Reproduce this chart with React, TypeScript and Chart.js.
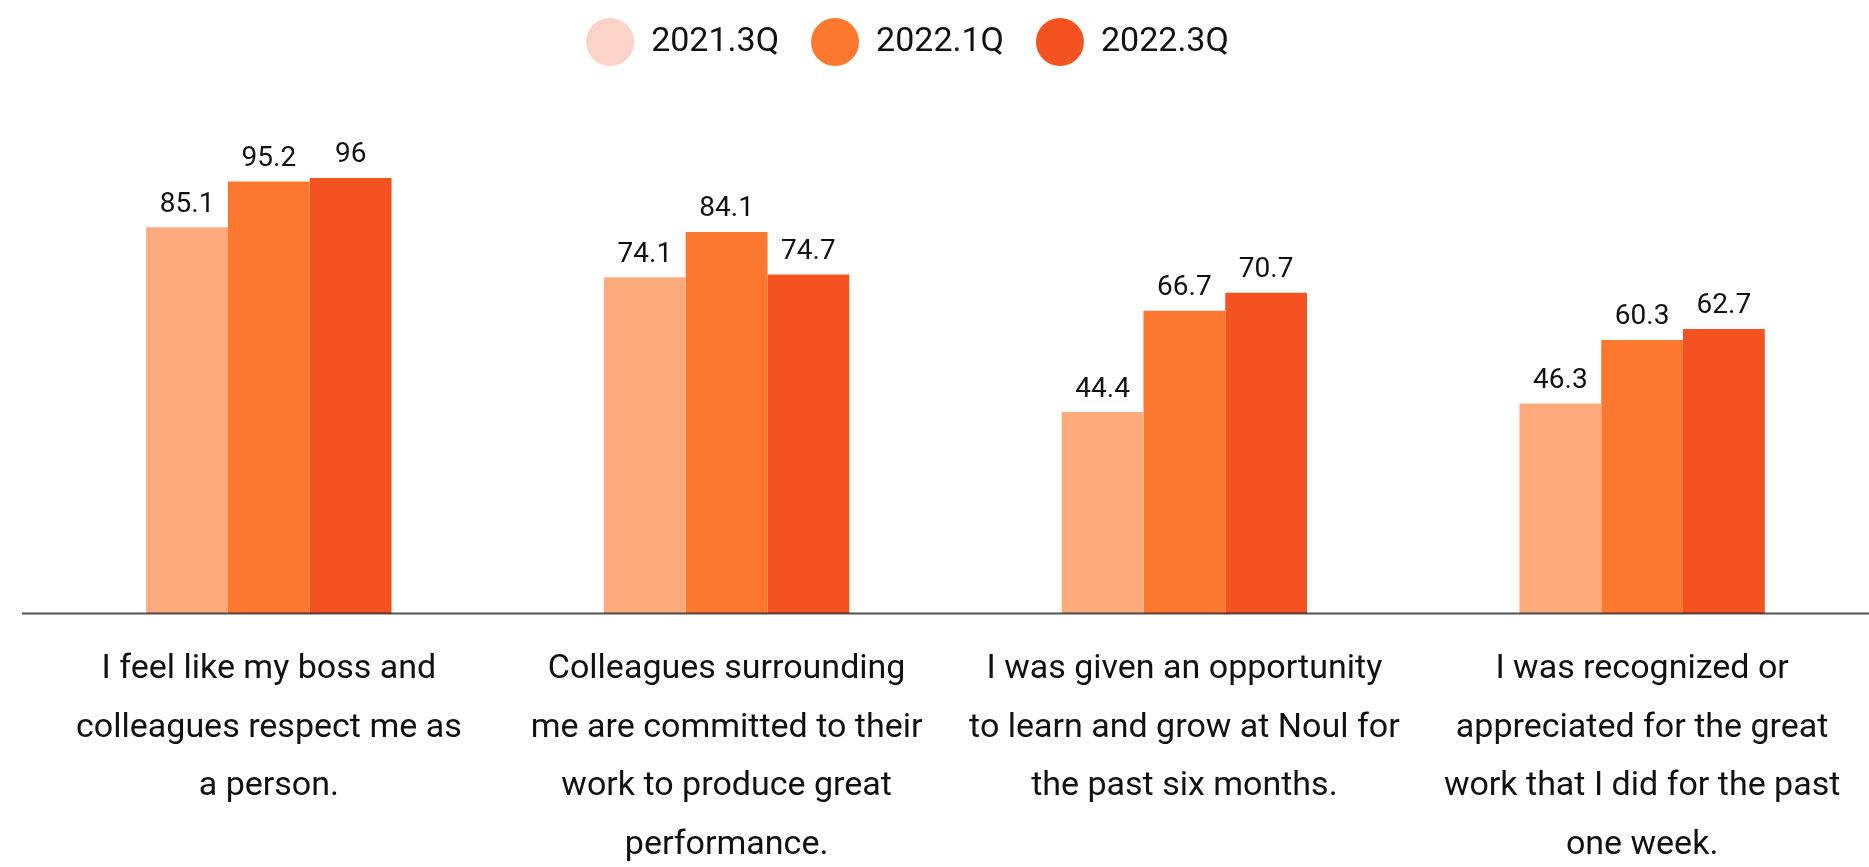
import React, { useEffect, useRef } from "react";
import { Chart, registerables } from "chart.js";

Chart.register(...registerables);

const categories: string[][] = [
  ["I feel like my boss and", "colleagues respect me as", "a person."],
  ["Colleagues surrounding", "me are committed to their", "work to produce great", "performance."],
  ["I was given an opportunity", "to learn and grow at Noul for", "the past six months."],
  ["I was recognized or", "appreciated for the great", "work that I did for the past", "one week."],
];

const seriesNames = ["2021.3Q", "2022.1Q", "2022.3Q"];
const values2021Q3 = [85.1, 74.1, 44.4, 46.3];
const values2022Q1 = [95.2, 84.1, 66.7, 60.3];
const values2022Q3 = [96, 74.7, 70.7, 62.7];

const barColors = ["#FDAA7D", "#FD782F", "#F55222"];
const legendColors = ["#FBD3C8", "#FD782F", "#F55222"];

const FONT = "Roboto, 'Noto Sans', sans-serif";

const valueLabelPlugin = {
  id: "valueLabels",
  afterDatasetsDraw(chart: any) {
    const ctx = chart.ctx;
    ctx.save();
    ctx.font = `28px ${FONT}`;
    ctx.fillStyle = "#111111";
    ctx.textAlign = "center";
    ctx.textBaseline = "alphabetic";
    chart.data.datasets.forEach((ds: any, di: number) => {
      const meta = chart.getDatasetMeta(di);
      meta.data.forEach((bar: any, i: number) => {
        const v = ds.data[i];
        ctx.fillText(String(v), bar.x, bar.y - 15.5);
      });
    });
    ctx.restore();
  },
};

const baselinePlugin = {
  id: "baseline",
  afterDatasetsDraw(chart: any) {
    const ctx = chart.ctx;
    const y = chart.scales.y.getPixelForValue(0);
    ctx.save();
    ctx.strokeStyle = "rgba(0,0,0,0.68)";
    ctx.lineWidth = 2;
    ctx.beginPath();
    ctx.moveTo(78, y);
    ctx.lineTo(chart.width, y);
    ctx.stroke();
    ctx.restore();
  },
};

export default function App() {
  const ref = useRef<HTMLCanvasElement | null>(null);

  useEffect(() => {
    if (!ref.current) return;
    const seriesValues = [values2021Q3, values2022Q1, values2022Q3];
    const chart = new Chart(ref.current, {
      type: "bar",
      data: {
        labels: categories,
        datasets: seriesNames.map((name, i) => ({
          label: name,
          data: seriesValues[i],
          backgroundColor: barColors[i],
          borderWidth: 0,
          categoryPercentage: 0.536,
          barPercentage: 1,
        })),
      },
      options: {
        responsive: false,
        animation: false,
        devicePixelRatio: 1,
        layout: { padding: 0 },
        plugins: {
          tooltip: { enabled: false },
          legend: {
            position: "top",
            align: "center",
            labels: {
              usePointStyle: true,
              pointStyle: "circle",
              pointStyleWidth: 48,
              padding: 32,
              color: "#111111",
              font: { family: FONT, size: 34 },
              generateLabels: (chart: any) => {
                const items = Chart.defaults.plugins.legend.labels.generateLabels(chart);
                return items.map((it: any, i: number) => ({
                  ...it,
                  fillStyle: legendColors[i],
                  strokeStyle: legendColors[i],
                  lineWidth: 0,
                }));
              },
            },
          },
        },
        scales: {
          x: {
            grid: { display: false, drawTicks: false },
            border: { display: false },
            ticks: {
              color: "#111111",
              padding: 27,
              maxRotation: 0,
              autoSkip: false,
              font: { family: FONT, size: 34, lineHeight: "58.5px" },
            },
            afterFit: (scale: any) => {
              scale.height = 253.5;
            },
          },
          y: {
            min: 0,
            max: 120,
            grid: { display: false, drawTicks: false },
            border: { display: false },
            ticks: { display: false },
            afterFit: (scale: any) => {
              scale.width = 96;
            },
          },
        },
      },
      plugins: [valueLabelPlugin, baselinePlugin],
    } as any);
    return () => chart.destroy();
  }, []);

  return (
    <div
      style={{
        position: "fixed",
        left: 0,
        top: 0,
        width: 1869,
        height: 867,
        overflow: "hidden",
        background: "#ffffff",
      }}
    >
      <canvas
        ref={ref}
        width={1927}
        height={874}
        style={{ position: "absolute", left: -56, top: -7, width: 1927, height: 874 }}
      />
    </div>
  );
}
